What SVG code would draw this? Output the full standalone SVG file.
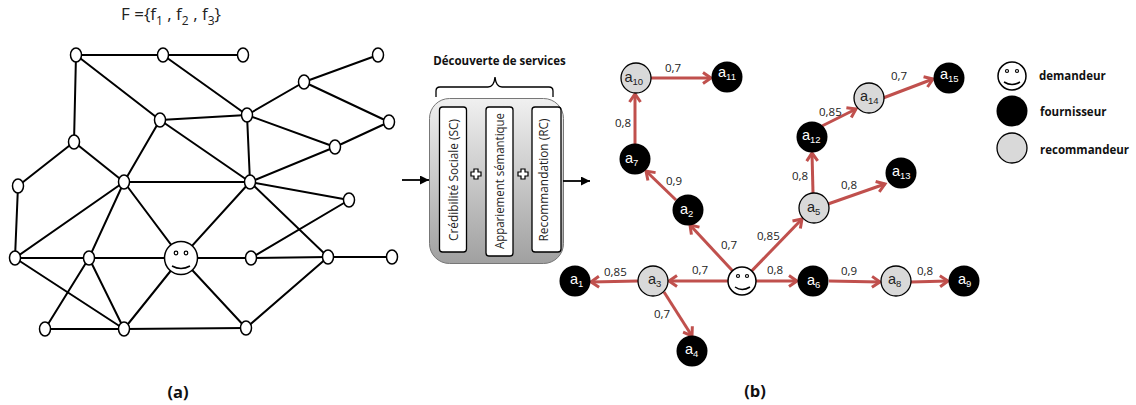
<svg xmlns="http://www.w3.org/2000/svg" width="1136" height="405" viewBox="0 0 1136 405">
<style>
.e line{stroke:#000;stroke-width:2;stroke-linecap:round}
.n{fill:#fff;stroke:#000;stroke-width:1.5}
.s{fill:#fff;stroke:#000;stroke-width:1.5}
.eye{fill:none;stroke:#000;stroke-width:1.2}
.m{fill:none;stroke:#000;stroke-width:1.5}
.r line{stroke:#c0504d;stroke-width:3;marker-end:url(#ah)}
.blk{fill:#000}
.gry{fill:#d9d9d9;stroke:#000;stroke-width:1.3}
.lw{font:14.5px "Liberation Sans",sans-serif;fill:#fff}
.lk{font:14.5px "Liberation Sans",sans-serif;fill:#222}
.sb{font-size:9.5px}
.w{font:11.5px "Open Sans",sans-serif;fill:#222}
.b{font:bold 11.5px "Open Sans",sans-serif;fill:#111}
.v{font:12px "Open Sans",sans-serif;fill:#222}
.t{font:bold 16.5px "Open Sans",sans-serif;fill:#111}
.box{fill:#fff;stroke:#000;stroke-width:1.3}
.a{stroke:#000;stroke-width:1.8;marker-end:url(#bh)}
</style>
<defs>
<marker id="ah" markerUnits="userSpaceOnUse" markerWidth="14" markerHeight="16" refX="11" refY="7" orient="auto" viewBox="0 0 14 14"><path d="M3 1.500 L11 7 L3 12.500" fill="none" stroke="#c0504d" stroke-width="3"/></marker>
<marker id="bh" markerUnits="userSpaceOnUse" markerWidth="9" markerHeight="9" refX="8" refY="4" orient="auto" viewBox="0 0 8 8"><path d="M0 0 L8 4 L0 8Z" fill="#000"/></marker>
<linearGradient id="pg" x1="0" y1="0" x2="0" y2="1"><stop offset="0" stop-color="#f0f0f0"/><stop offset="1" stop-color="#a0a0a0"/></linearGradient>
</defs>
<text x="121" y="20" font-family="'Open Sans',sans-serif" font-size="17" fill="#222">F ={f<tspan font-size="12" dy="5">1</tspan><tspan dy="-5"> , f</tspan><tspan font-size="12" dy="5">2</tspan><tspan dy="-5"> , f</tspan><tspan font-size="12" dy="5">3</tspan><tspan dy="-5">}</tspan></text>
<g id="connectors-a" class="e">
<line x1="76" y1="55" x2="163" y2="55"/><line x1="163" y1="55" x2="243" y2="55"/><line x1="378" y1="55" x2="304" y2="82"/><line x1="304" y1="82" x2="247" y2="115"/><line x1="304" y1="82" x2="389" y2="122"/><line x1="389" y1="122" x2="335" y2="147"/><line x1="247" y1="115" x2="335" y2="147"/><line x1="163" y1="55" x2="247" y2="115"/><line x1="76" y1="55" x2="160" y2="120"/><line x1="76" y1="55" x2="74" y2="142"/><line x1="160" y1="120" x2="247" y2="115"/><line x1="160" y1="120" x2="124" y2="182"/><line x1="160" y1="120" x2="250" y2="182"/><line x1="247" y1="115" x2="250" y2="182"/><line x1="74" y1="142" x2="124" y2="182"/><line x1="74" y1="142" x2="18" y2="186"/><line x1="124" y1="182" x2="250" y2="182"/><line x1="250" y1="182" x2="335" y2="147"/><line x1="250" y1="182" x2="349" y2="200"/><line x1="18" y1="186" x2="15" y2="258"/><line x1="124" y1="182" x2="15" y2="258"/><line x1="124" y1="182" x2="89" y2="258"/><line x1="124" y1="182" x2="181" y2="258"/><line x1="250" y1="182" x2="181" y2="258"/><line x1="250" y1="182" x2="328" y2="257"/><line x1="349" y1="200" x2="251" y2="258"/><line x1="15" y1="258" x2="89" y2="258"/><line x1="89" y1="258" x2="181" y2="258"/><line x1="181" y1="258" x2="251" y2="258"/><line x1="251" y1="258" x2="328" y2="257"/><line x1="328" y1="257" x2="392" y2="257"/><line x1="15" y1="258" x2="124" y2="329"/><line x1="89" y1="258" x2="45" y2="329"/><line x1="89" y1="258" x2="124" y2="329"/><line x1="181" y1="258" x2="124" y2="329"/><line x1="181" y1="258" x2="246" y2="328"/><line x1="45" y1="329" x2="124" y2="329"/><line x1="124" y1="329" x2="246" y2="328"/><line x1="246" y1="328" x2="328" y2="257"/>
</g>
<g id="nodes-a">
<ellipse id="u1" class="n" cx="76" cy="55" rx="5.500" ry="7"/><ellipse id="u2" class="n" cx="163" cy="55" rx="5.500" ry="7"/><ellipse id="u3" class="n" cx="243" cy="55" rx="5.500" ry="7"/><ellipse id="u4" class="n" cx="378" cy="55" rx="5.500" ry="7"/><ellipse id="u5" class="n" cx="304" cy="82" rx="5.500" ry="7"/><ellipse id="u6" class="n" cx="247" cy="115" rx="5.500" ry="7"/><ellipse id="u7" class="n" cx="160" cy="120" rx="5.500" ry="7"/><ellipse id="u8" class="n" cx="389" cy="122" rx="5.500" ry="7"/><ellipse id="u9" class="n" cx="335" cy="147" rx="5.500" ry="7"/><ellipse id="u10" class="n" cx="74" cy="142" rx="5.500" ry="7"/><ellipse id="u11" class="n" cx="124" cy="182" rx="5.500" ry="7"/><ellipse id="u12" class="n" cx="250" cy="182" rx="5.500" ry="7"/><ellipse id="u13" class="n" cx="18" cy="186" rx="5.500" ry="7"/><ellipse id="u14" class="n" cx="349" cy="200" rx="5.500" ry="7"/><ellipse id="u15" class="n" cx="15" cy="258" rx="5.500" ry="7"/><ellipse id="u16" class="n" cx="89" cy="258" rx="5.500" ry="7"/><ellipse id="u17" class="n" cx="251" cy="258" rx="5.500" ry="7"/><ellipse id="u18" class="n" cx="328" cy="257" rx="5.500" ry="7"/><ellipse id="u19" class="n" cx="392" cy="257" rx="5.500" ry="7"/><ellipse id="u20" class="n" cx="45" cy="329" rx="5.500" ry="7"/><ellipse id="u21" class="n" cx="124" cy="329" rx="5.500" ry="7"/><ellipse id="u22" class="n" cx="246" cy="328" rx="5.500" ry="7"/>
<g id="user-a"><circle class="s" cx="181" cy="258" r="16.500"/><circle class="eye" cx="176" cy="253" r="1.800"/><circle class="eye" cx="186" cy="253" r="1.800"/><path class="m" d="M172 266 Q181 271 190 266"/></g>
</g>
<text class="t" x="178" y="398" text-anchor="middle">(a)</text>

<g id="services">
<text class="b" x="499.500" y="65" text-anchor="middle">Découverte de services</text>
<path d="M436 97 V91 Q436 87 440 87 H488 Q494 87 495 77 Q496 87 502 87 H549 Q553 87 553 91 V97" fill="none" stroke="#000" stroke-width="1.3"/>
<rect x="429.500" y="98.500" width="134" height="165" rx="20" fill="url(#pg)" stroke="#777" stroke-width="1"/>
<rect class="box" x="439.500" y="107" width="27" height="145" rx="3"/>
<rect class="box" x="486" y="107" width="27" height="149" rx="3"/>
<rect class="box" x="532" y="107" width="29" height="145" rx="3"/>
<text class="v" transform="translate(458 180) rotate(-90)" text-anchor="middle" textLength="122" lengthAdjust="spacingAndGlyphs">Crédibilité Sociale (SC)</text>
<text class="v" transform="translate(504 181) rotate(-90)" text-anchor="middle" textLength="136" lengthAdjust="spacingAndGlyphs">Appariement sémantique</text>
<text class="v" transform="translate(548 180) rotate(-90)" text-anchor="middle" textLength="123" lengthAdjust="spacingAndGlyphs">Recommandation (RC)</text>
<path d="M474 169 h4 v3 h3 v4 h-3 v3 h-4 v-3 h-3 v-4 h3z M521 169 h4 v3 h3 v4 h-3 v3 h-4 v-3 h-3 v-4 h3z" fill="#fff" stroke="#000" stroke-width="1.200"/>
</g>
<g id="connectors-flow">
<line class="a" x1="402" y1="180" x2="429" y2="180"/>
<line class="a" x1="563" y1="181" x2="590" y2="181"/>
</g>

<g id="connectors-b" class="r">
<line x1="742" y1="281" x2="690" y2="225"/>
<line x1="742" y1="281" x2="802" y2="219"/>
<line x1="728" y1="281" x2="669" y2="281"/>
<line x1="756" y1="281" x2="797" y2="281"/>
<line x1="638" y1="281" x2="591" y2="282"/>
<line x1="664" y1="292" x2="692" y2="336"/>
<line x1="829" y1="281" x2="880" y2="282"/>
<line x1="911" y1="282" x2="948" y2="281"/>
<line x1="676" y1="200" x2="646" y2="171"/>
<line x1="635" y1="144" x2="635" y2="94"/>
<line x1="651" y1="78" x2="711" y2="78"/>
<line x1="813" y1="193" x2="812" y2="153"/>
<line x1="828" y1="204" x2="885" y2="184"/>
<line x1="822" y1="126" x2="856" y2="109"/>
<line x1="883" y1="98" x2="933" y2="79"/>
</g>
<g id="a10"><circle class="gry" cx="636" cy="78" r="15"/><text class="lk" x="624.500" y="82">a<tspan class="sb" dy="3">10</tspan></text></g>
<g id="a11"><circle class="blk" cx="727" cy="77" r="15.500"/><text class="lw" x="718" y="77">a<tspan class="sb" dy="3">11</tspan></text></g>
<g id="a14"><circle class="gry" cx="869" cy="98" r="15"/><text class="lk" x="860" y="101">a<tspan class="sb" dy="3">14</tspan></text></g>
<g id="a15"><circle class="blk" cx="949" cy="78" r="15.500"/><text class="lw" x="940" y="79">a<tspan class="sb" dy="3">15</tspan></text></g>
<g id="a12"><circle class="blk" cx="812" cy="137" r="15.500"/><text class="lw" x="802" y="140">a<tspan class="sb" dy="3">12</tspan></text></g>
<g id="a13"><circle class="blk" cx="901" cy="173" r="15.500"/><text class="lw" x="892" y="176">a<tspan class="sb" dy="3">13</tspan></text></g>
<g id="a7"><circle class="blk" cx="635" cy="159" r="15.500"/><text class="lw" x="625" y="163">a<tspan class="sb" dy="3">7</tspan></text></g>
<g id="a2"><circle class="blk" cx="688" cy="210" r="15.500"/><text class="lw" x="680" y="214">a<tspan class="sb" dy="3">2</tspan></text></g>
<g id="a5"><circle class="gry" cx="814" cy="208" r="15"/><text class="lk" x="807" y="212">a<tspan class="sb" dy="3">5</tspan></text></g>
<g id="a1"><circle class="blk" cx="575" cy="281" r="15.500"/><text class="lw" x="570" y="284">a<tspan class="sb" dy="3">1</tspan></text></g>
<g id="a3"><circle class="gry" cx="653" cy="281" r="15"/><text class="lk" x="648" y="284">a<tspan class="sb" dy="3">3</tspan></text></g>
<g id="a6"><circle class="blk" cx="813" cy="281" r="15.500"/><text class="lw" x="807" y="285">a<tspan class="sb" dy="3">6</tspan></text></g>
<g id="a8"><circle class="gry" cx="896" cy="281" r="15"/><text class="lk" x="888" y="284">a<tspan class="sb" dy="3">8</tspan></text></g>
<g id="a9"><circle class="blk" cx="964" cy="281" r="15.500"/><text class="lw" x="958" y="284">a<tspan class="sb" dy="3">9</tspan></text></g>
<g id="a4"><circle class="blk" cx="692" cy="351" r="15.500"/><text class="lw" x="685" y="354">a<tspan class="sb" dy="3">4</tspan></text></g>
<g id="user-b"><circle class="s" cx="742" cy="281" r="14"/><circle class="eye" cx="738" cy="276" r="1.500"/><circle class="eye" cx="747" cy="276" r="1.500"/><path class="m" d="M735 287 Q742 292 750 287"/></g>
<g id="weights">
<text class="w" x="665" y="72">0,7</text><text class="w" x="615" y="127">0,8</text><text class="w" x="666" y="185">0,9</text><text class="w" x="721" y="249">0,7</text><text class="w" x="757" y="240">0,85</text><text class="w" x="692" y="274">0,7</text><text class="w" x="767" y="274">0,8</text><text class="w" x="604" y="276">0,85</text><text class="w" x="654" y="318">0,7</text><text class="w" x="841" y="275">0,9</text><text class="w" x="917" y="275">0,8</text><text class="w" x="792" y="180">0,8</text><text class="w" x="841" y="189">0,8</text><text class="w" x="819" y="116">0,85</text><text class="w" x="891" y="80">0,7</text>
</g>
<text class="t" x="755" y="397" text-anchor="middle">(b)</text>

<g id="legend">
<g id="leg-user"><circle class="s" cx="1012" cy="76" r="14"/><circle class="eye" cx="1007" cy="71" r="1.500"/><circle class="eye" cx="1017" cy="71" r="1.500"/><path class="m" d="M1004 82 Q1012 87 1020 82"/></g>
<circle class="blk" cx="1012" cy="111" r="15.500"/>
<circle cx="1012" cy="148" r="15" fill="#d9d9d9" stroke="#000" stroke-width="1.300"/>
<text class="b" x="1039" y="80">demandeur</text>
<text class="b" x="1040" y="116">fournisseur</text>
<text class="b" x="1040" y="154">recommandeur</text>
</g>
</svg>
